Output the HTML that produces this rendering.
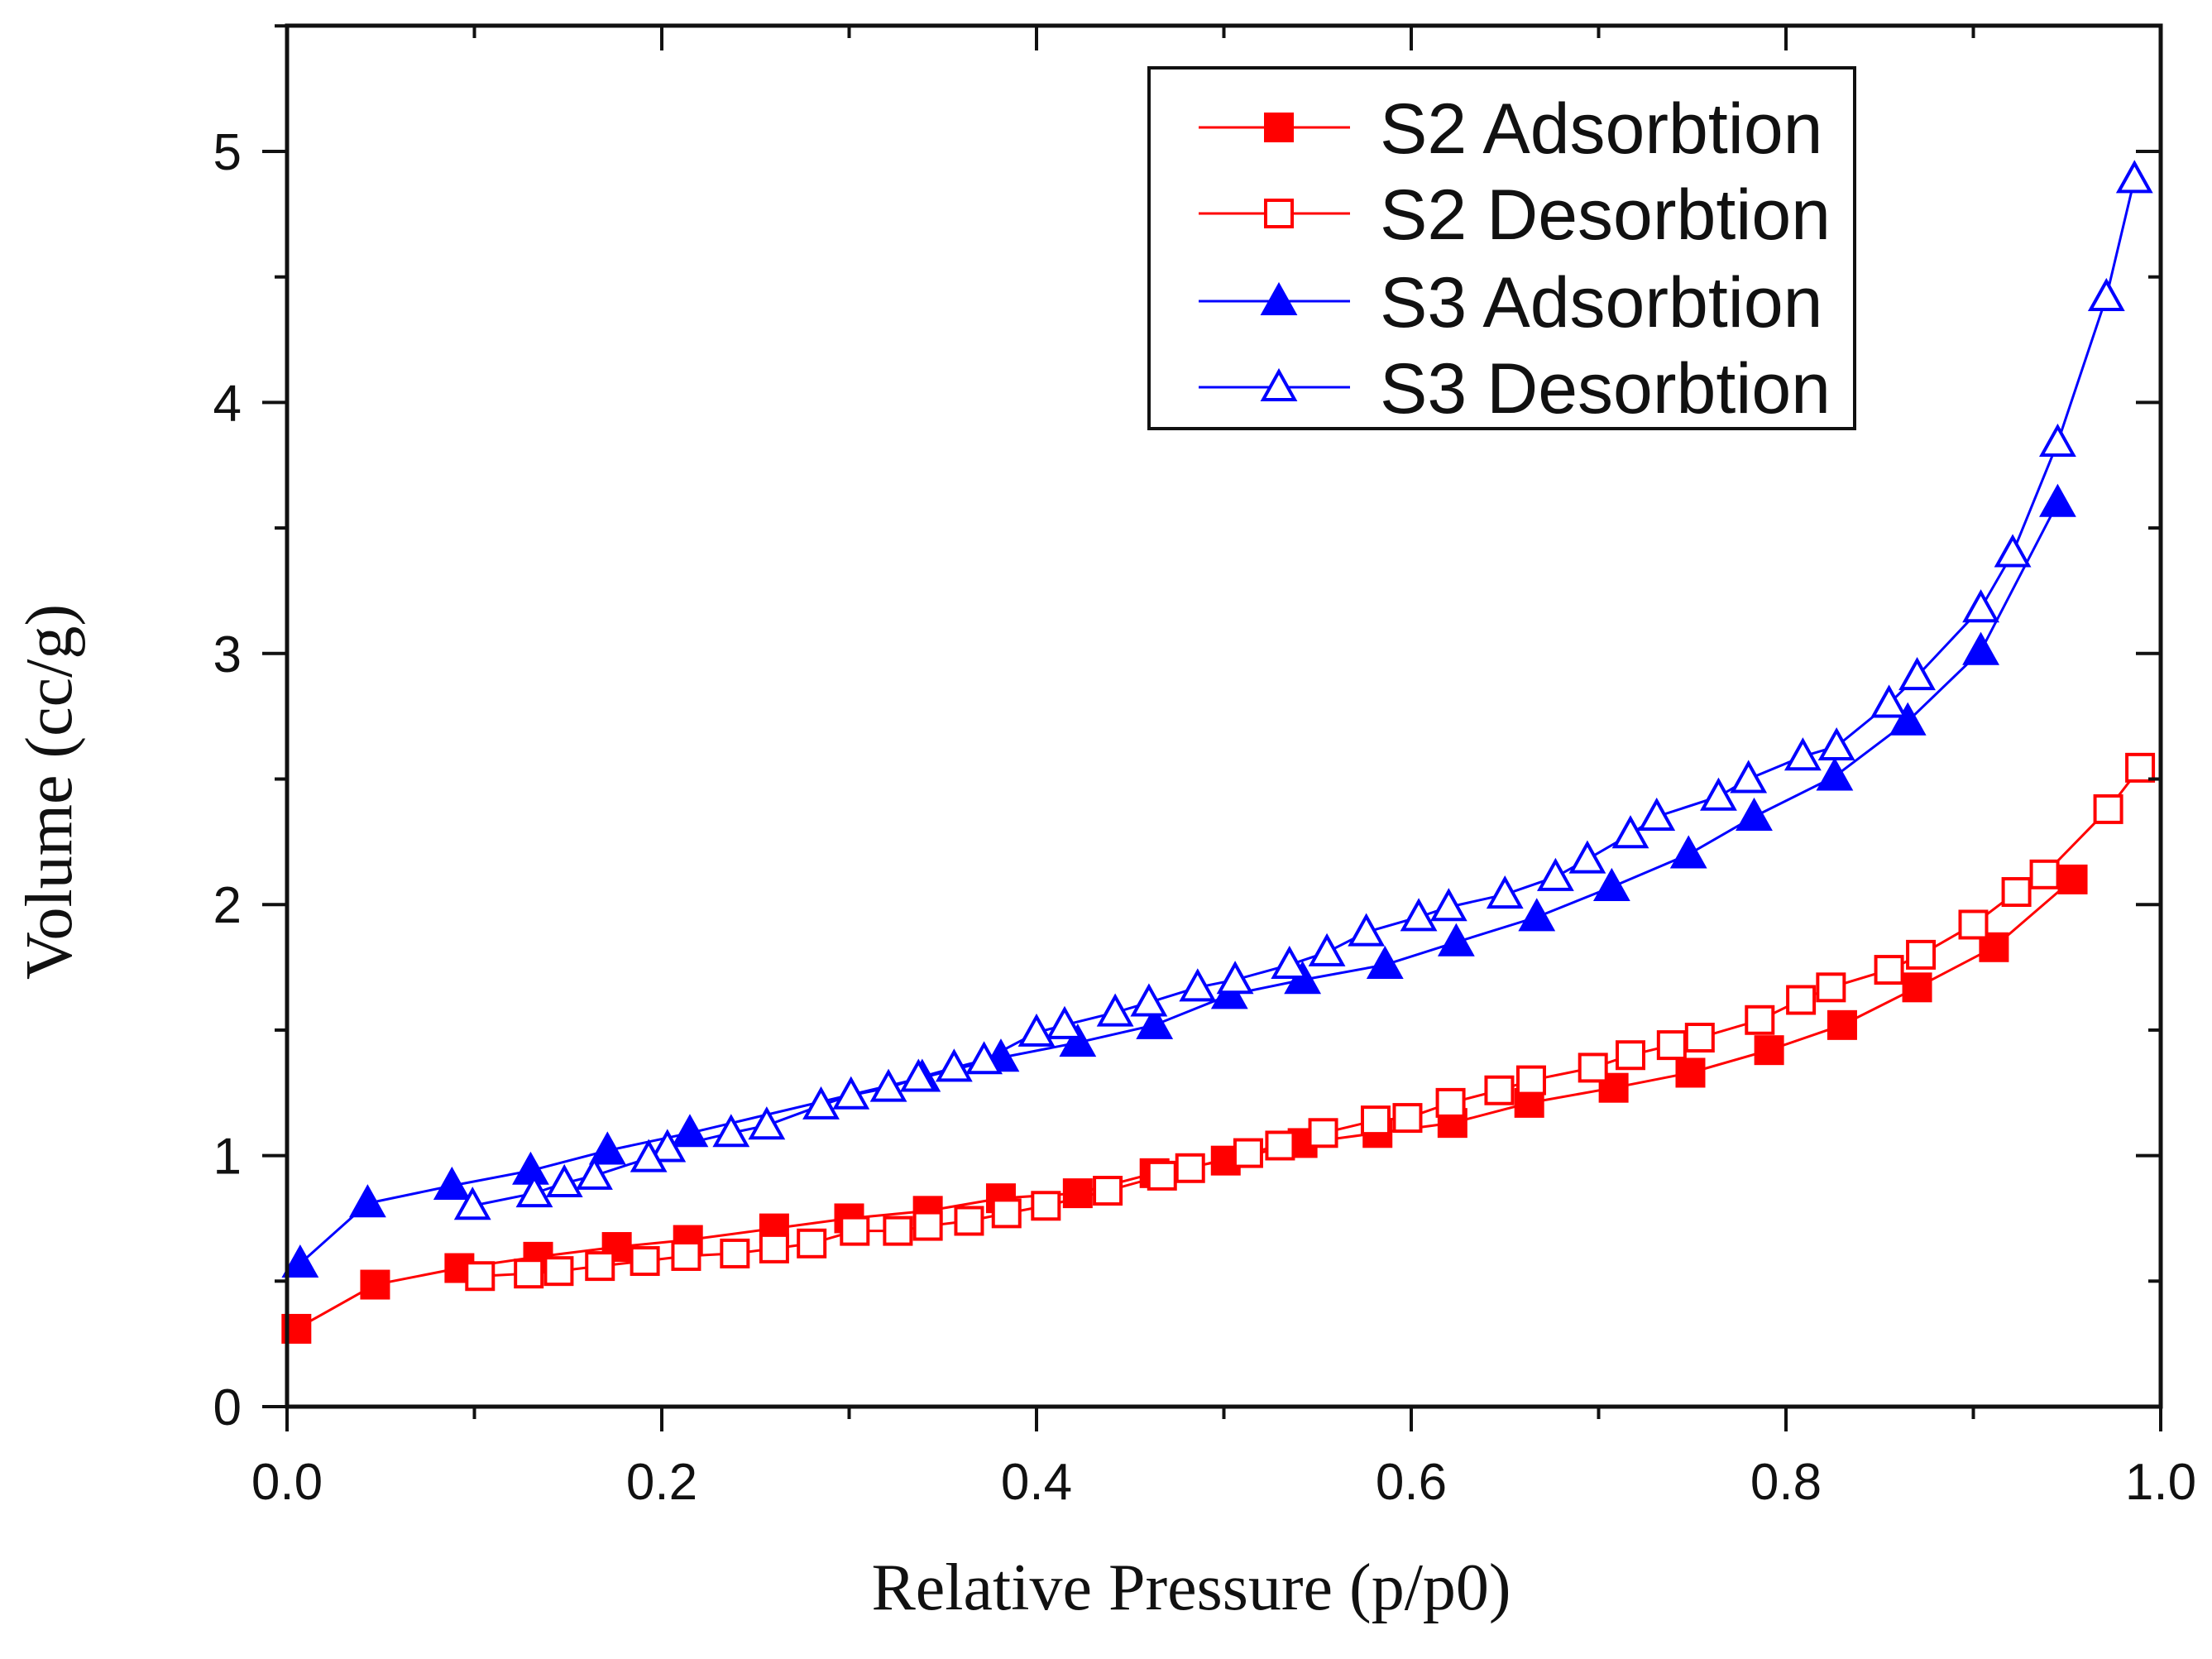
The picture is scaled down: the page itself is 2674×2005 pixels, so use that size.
<!DOCTYPE html>
<html><head><meta charset="utf-8"><style>
html,body{margin:0;padding:0;background:#fff;}
svg{display:block;}
text{font-family:"Liberation Sans",sans-serif;}
</style></head><body>
<svg id="chart" width="2674" height="2005" viewBox="0 0 2674 2005" xmlns="http://www.w3.org/2000/svg">
<rect width="2674" height="2005" fill="#fff"/>
<g id="marks"></g>
<g id="axes"></g>
</svg>
<script>
const s2AdsX=[0.005,0.047,0.092,0.134,0.176,0.214,0.26,0.30,0.342,0.381,0.422,0.463,0.501,0.542,0.582,0.622,0.663,0.708,0.749,0.791,0.83,0.87,0.911,0.953];
const s2AdsY=[0.31,0.486,0.552,0.597,0.636,0.664,0.71,0.75,0.78,0.83,0.85,0.93,0.98,1.05,1.09,1.13,1.21,1.27,1.33,1.42,1.52,1.67,1.83,2.10];
const s2DesX=[0.989,0.972,0.938,0.923,0.90,0.872,0.855,0.824,0.808,0.786,0.754,0.739,0.717,0.697,0.664,0.647,0.621,0.598,0.581,0.553,0.53,0.513,0.482,0.467,0.438,0.405,0.384,0.364,0.342,0.326,0.303,0.28,0.26,0.239,0.213,0.191,0.167,0.145,0.129,0.103];
const s2DesY=[2.545,2.38,2.12,2.05,1.92,1.80,1.74,1.67,1.62,1.54,1.47,1.44,1.40,1.35,1.30,1.26,1.21,1.15,1.14,1.09,1.04,1.01,0.95,0.92,0.86,0.80,0.77,0.74,0.72,0.70,0.70,0.65,0.63,0.61,0.60,0.58,0.56,0.54,0.53,0.52];
const s3AdsX=[0.007,0.043,0.088,0.13,0.171,0.215,0.339,0.381,0.422,0.463,0.503,0.542,0.586,0.624,0.667,0.707,0.748,0.783,0.826,0.865,0.904,0.945];
const s3AdsY=[0.57,0.81,0.88,0.94,1.02,1.09,1.31,1.39,1.45,1.52,1.64,1.70,1.76,1.85,1.95,2.07,2.20,2.35,2.51,2.73,3.01,3.60];
const s3DesX=[0.986,0.971,0.945,0.921,0.904,0.870,0.855,0.827,0.809,0.780,0.764,0.731,0.717,0.694,0.677,0.650,0.620,0.604,0.576,0.555,0.535,0.506,0.486,0.46,0.442,0.415,0.40,0.372,0.356,0.337,0.321,0.301,0.285,0.256,0.237,0.203,0.193,0.164,0.148,0.132,0.099];
const s3DesY=[4.89,4.42,3.84,3.40,3.18,2.91,2.80,2.63,2.59,2.50,2.43,2.35,2.28,2.18,2.11,2.04,1.99,1.95,1.89,1.81,1.76,1.70,1.67,1.61,1.57,1.52,1.49,1.38,1.35,1.31,1.27,1.24,1.20,1.12,1.09,1.03,0.99,0.92,0.89,0.85,0.80];
const xTicks=["0.0","0.2","0.4","0.6","0.8","1.0"];
const yTicks=["0","1","2","3","4","5"];

const NS="http://www.w3.org/2000/svg";
const L=347,R=2612,T=31,B=1700;
const xs=v=>L+v*(R-L);
const ys=v=>B-v*303.4;
const marks=document.getElementById('marks');
const axes=document.getElementById('axes');
function mk(tag,attrs,parent){const e=document.createElementNS(NS,tag);for(const k in attrs)e.setAttribute(k,attrs[k]);parent.appendChild(e);return e;}

function marker(g,type,filled,color,cx,cy){
  let e;
  if(type==='sq'){e=mk('rect',{x:cx-16,y:cy-16,width:32,height:32,fill:filled?color:'#fff',stroke:color,'stroke-width':4},g);}
  else{e=mk('polygon',{points:`${cx},${cy-19} ${cx+19},${cy+15} ${cx-19},${cy+15}`,fill:filled?color:'#fff',stroke:color,'stroke-width':4},g);}
  return e;
}
function series(name,X,Y,type,filled,color){
  const g=mk('g',{},marks);
  
  
  const pts=X.map((x,i)=>xs(x)+','+ys(Y[i])).join(' ');
  const pl=mk('polyline',{points:pts,fill:'none',stroke:color,'stroke-width':3},g);
  
  
  X.forEach((x,i)=>{const m=marker(g,type,filled,color,xs(x),ys(Y[i]));
    
    });
}
series('s2-adsorption',s2AdsX,s2AdsY,'sq',true,'#f00');
series('s2-desorption',s2DesX,s2DesY,'sq',false,'#f00');
series('s3-adsorption',s3AdsX,s3AdsY,'tri',true,'#00f');
series('s3-desorption',s3DesX,s3DesY,'tri',false,'#00f');

const fr=mk('rect',{x:L,y:T,width:R-L,height:B-T,fill:'none',stroke:'#111','stroke-width':5},axes);


for(let i=0;i<=10;i++){
  const v=i/10,x=xs(v),maj=i%2===0;
  mk('line',{x1:x,y1:B,x2:x,y2:B+(maj?30:15),stroke:'#111','stroke-width':4},axes);
  mk('line',{x1:x,y1:T,x2:x,y2:T+(maj?30:15),stroke:'#111','stroke-width':4},axes);
}
xTicks.forEach(t=>{const e=mk('text',{x:xs(parseFloat(t)),y:1812,'font-size':62,'text-anchor':'middle',fill:'#111'},axes);e.textContent=t;
  
  });
for(let i=0;i<=11;i++){
  const v=i/2,y=ys(v),maj=i%2===0;
  mk('line',{x1:L,y1:y,x2:L-(maj?30:15),y2:y,stroke:'#111','stroke-width':4},axes);
  mk('line',{x1:R,y1:y,x2:R-(maj?30:15),y2:y,stroke:'#111','stroke-width':4},axes);
}
yTicks.forEach(t=>{const e=mk('text',{x:292,y:ys(parseFloat(t))+22,'font-size':62,'text-anchor':'end',fill:'#111'},axes);e.textContent=t;
  
  });
const xt=mk('text',{x:1440,y:1945,'font-size':80,'text-anchor':'middle',fill:'#111',style:'font-family:"Liberation Serif",serif'},axes);
xt.textContent='Relative Pressure (p/p0)';


const yt=mk('text',{x:0,y:0,'font-size':80,'text-anchor':'middle',fill:'#111',style:'font-family:"Liberation Serif",serif',transform:'translate(86,957) rotate(-90)'},axes);
yt.textContent='Volume (cc/g)';


const lg=mk('g',{},axes);


mk('rect',{x:1389,y:82,width:853,height:436,fill:'#fff',stroke:'#111','stroke-width':4},lg);
const legNames=['S2 Adsorbtion','S2 Desorbtion','S3 Adsorbtion','S3 Desorbtion'];
const legSpec=[['sq',true,'#f00'],['sq',false,'#f00'],['tri',true,'#00f'],['tri',false,'#00f']];
const legY=[154,258,364,468];
legNames.forEach((n,i)=>{
  const g=mk('g',{},lg);
  
  
  const [tp,f,c]=legSpec[i];
  mk('line',{x1:1449,y1:legY[i],x2:1632,y2:legY[i],stroke:c,'stroke-width':3},g);
  marker(g,tp,f,c,1546,legY[i]);
  const t=mk('text',{x:1668,y:legY[i]+31,'font-size':86,fill:'#111'},g);t.textContent=n;
});
</script>
</body></html>
